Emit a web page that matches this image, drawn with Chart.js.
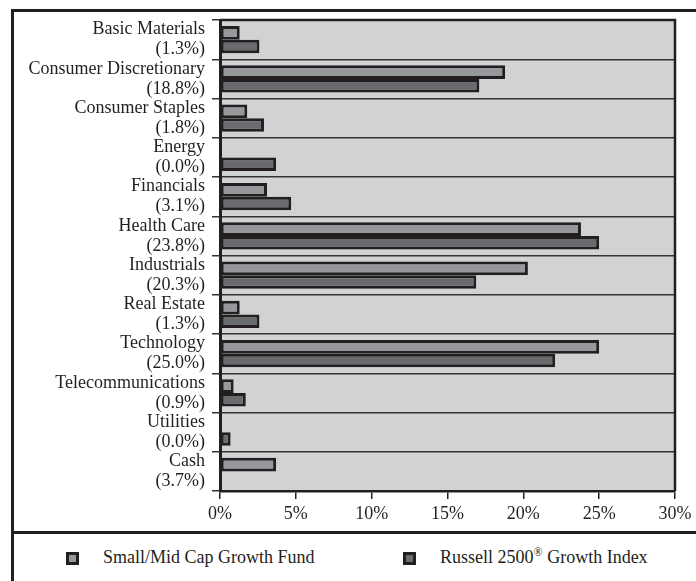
<!DOCTYPE html>
<html>
<head>
<meta charset="utf-8">
<script src="https://cdn.jsdelivr.net/npm/chart.js@4"></script>
<style>
  html, body { margin: 0; padding: 0; background: #fff; }
  body { width: 696px; height: 581px; position: relative; overflow: hidden; font-family: "Liberation Serif", serif; color: #231f20; }
  #chart { position: absolute; left: 0; top: 0; }
  .frame-left { position: absolute; left: 11px; top: 9px; width: 2.5px; height: 572px; background: #231f20; }
  .frame-top { position: absolute; left: 11px; top: 9px; width: 685px; height: 2.5px; background: #231f20; }
  .frame-div { position: absolute; left: 11px; top: 531px; width: 685px; height: 2.5px; background: #231f20; }
  .legend-item { position: absolute; top: 547px; font-size: 18px; line-height: 20px; white-space: nowrap; }
  .legend-item .box { position: absolute; top: 5px; width: 7px; height: 7px; border: 3px solid #231f20; }
  .legend-item .txt { position: absolute; top: 0; }
  .legend-item sup { font-size: 12px; vertical-align: 7px; line-height: 0; }
</style>
</head>
<body>
<canvas id="chart" width="696" height="525"></canvas>
<div class="frame-left"></div>
<div class="frame-top"></div>
<div class="frame-div"></div>
<div id="legend"></div>

<script>
// Sector allocation, percent of net assets
const sectors = ['Basic Materials', 'Consumer Discretionary', 'Consumer Staples', 'Energy', 'Financials',
  'Health Care', 'Industrials', 'Real Estate', 'Technology', 'Telecommunications', 'Utilities', 'Cash'];
const fundValues  = [1.3, 18.8, 1.8, 0.0, 3.1, 23.8, 20.3, 1.3, 25.0, 0.9, 0.0, 3.7];
const indexValues = [2.6, 17.1, 2.9, 3.7, 4.7, 25.0, 16.9, 2.6, 22.1, 1.7, 0.7, 0.0];
const xTicks = [0, 5, 10, 15, 20, 25, 30];

const fundName = 'Small/Mid Cap Growth Fund';
const indexName = 'Russell 2500<sup>®</sup> Growth Index';

const INK = '#231f20';
const FUND_COLOR = '#97989b';
const INDEX_COLOR = '#6a6b6e';
const PLOT_BG = '#d1d2d4';
const FONT = { family: '"Liberation Serif", serif', size: 18, lineHeight: 1.1 };

// two-line axis labels: sector name over the fund weight
const yLabels = sectors.map((s, i) => [s, '(' + fundValues[i].toFixed(1) + '%)']);

// grey plot background and the closing frame round the plot
const plotFrame = {
  id: 'plotFrame',
  beforeDraw(chart) {
    const { ctx, chartArea: a } = chart;
    ctx.save();
    ctx.fillStyle = PLOT_BG;
    ctx.fillRect(a.left, a.top, a.right - a.left, a.bottom - a.top);
    ctx.restore();
  },
  afterDraw(chart) {
    const { ctx, chartArea: a } = chart;
    ctx.save();
    ctx.strokeStyle = INK;
    ctx.lineWidth = 2.5;
    ctx.beginPath();
    ctx.moveTo(a.left, a.top);
    ctx.lineTo(a.right, a.top);
    ctx.lineTo(a.right, a.bottom);
    ctx.stroke();
    ctx.restore();
  }
};

const chart = new Chart(document.getElementById('chart').getContext('2d'), {
  type: 'bar',
  data: {
    labels: yLabels,
    datasets: [
      { label: fundName, data: fundValues, backgroundColor: FUND_COLOR,
        borderColor: INK, borderWidth: 3, borderSkipped: false },
      { label: indexName, data: indexValues, backgroundColor: INDEX_COLOR,
        borderColor: INK, borderWidth: 3, borderSkipped: false }
    ]
  },
  options: {
    indexAxis: 'y',
    responsive: false,
    animation: false,
    layout: { padding: { left: 0, top: 20, right: 21, bottom: 0 } },
    datasets: { bar: { categoryPercentage: 0.69, barPercentage: 1.0 } },
    plugins: { legend: { display: false }, tooltip: { enabled: false } },
    scales: {
      x: {
        min: 0, max: 30,
        afterBuildTicks(scale) { scale.ticks = xTicks.map(v => ({ value: v })); },
        afterFit(scale) { scale.height = 34; scale.paddingLeft = 0; scale.paddingRight = 0; },
        grid: { drawOnChartArea: false, drawTicks: true, tickLength: 8, color: INK, lineWidth: 1.5 },
        border: { color: INK, width: 2.5 },
        ticks: { color: INK, font: FONT, padding: 5, callback: v => v + '%' }
      },
      y: {
        afterFit(scale) { scale.width = 220; scale.paddingTop = 0; scale.paddingBottom = 0; },
        grid: { color: '#333', lineWidth: 1.5, tickLength: 8 },
        border: { color: INK, width: 3 },
        ticks: { color: INK, font: FONT, padding: 7, autoSkip: false }
      }
    }
  },
  plugins: [plotFrame]
});

// legend below the divider
const legendItems = [
  { text: fundName, color: FUND_COLOR, left: 66 },
  { text: indexName, color: INDEX_COLOR, left: 403 }
];
document.getElementById('legend').innerHTML = legendItems.map(it =>
  `<div class="legend-item" style="left:${it.left}px">
     <span class="box" style="left:0;background:${it.color}"></span>
     <span class="txt" style="left:37px">${it.text}</span>
   </div>`).join('');
</script>
</body>
</html>
